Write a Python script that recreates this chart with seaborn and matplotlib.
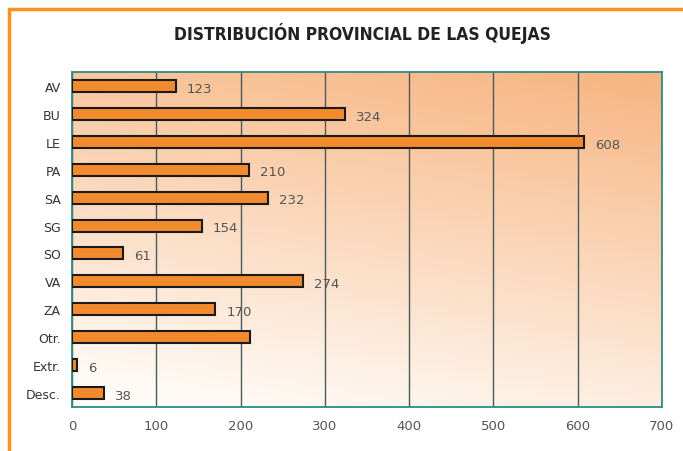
import numpy as np
import pandas as pd
import matplotlib
matplotlib.use("Agg")
import matplotlib.pyplot as plt
from matplotlib.patches import Rectangle
import seaborn as sns

categories = ["AV", "BU", "LE", "PA", "SA", "SG", "SO", "VA", "ZA", "Otr.", "Extr.", "Desc."]
values = [123, 324, 608, 210, 232, 154, 61, 274, 170, 211, 6, 38]
labels = ["123", "324", "608", "210", "232", "154", "61", "274", "170", "", "6", "38"]
xticks = [0, 100, 200, 300, 400, 500, 600, 700]

df = pd.DataFrame({"prov": categories, "n": values})

sns.set_style("white")
plt.rcParams['font.family'] = ['DejaVu Sans']

fig = plt.figure(figsize=(6.83, 4.52), dpi=100)
fig.patch.set_facecolor("white")
# orange frame
fig.add_artist(Rectangle((9/683, -0.05), 1.2, 1 - 10/452 + 0.05, transform=fig.transFigure,
                         fill=False, edgecolor="#F7931E", linewidth=2.5))

ax = fig.add_axes([72/683, 1 - 408/452, 590/683, 335/452])

# gradient background
ny, nx = 200, 200
yy, xx = np.mgrid[0:1:ny*1j, 0:1:nx*1j]
t = np.clip((1 - yy) * 0.8 + xx * 0.25 - 0.05, 0, 1)  # yy=0 at top row
top = np.array([247, 180, 128]) / 255
bot = np.array([255, 252, 248]) / 255
img = bot[None, None, :] * (1 - t[..., None]) + top[None, None, :] * t[..., None]
ax.imshow(img, extent=[0, 700, 11.5, -0.5], aspect="auto", zorder=0, interpolation="bilinear")

sns.barplot(data=df, x="n", y="prov", orient="h", color="#F28A2E", width=0.43,
            edgecolor="#1a1a1a", linewidth=1.5, saturation=1, ax=ax, zorder=3)

for i, (v, lab) in enumerate(zip(values, labels)):
    if lab:
        ax.text(v + 13, i + 0.08, lab, va="center", ha="left", fontsize=9.5, color="#555555", zorder=4)

ax.set_xlim(0, 700)
ax.set_ylim(11.5, -0.5)
ax.set_xticks(xticks)
ax.set_xticklabels([str(x) for x in xticks], fontsize=9.5, color="#555555")
ax.set_yticks(range(len(categories)))
ax.set_yticklabels(categories, fontsize=9, color="#333333")
ax.tick_params(axis="y", length=0, pad=8)
ax.tick_params(axis="x", length=4, color="#2f6f6f", width=1.2, pad=5)
# minor ticks on y at boundaries
ax.set_yticks(np.arange(-0.5, 12, 1), minor=True)
ax.tick_params(axis="y", which="minor", length=4, color="#2f6f6f", width=1.2)
ax.set_xlabel("")
ax.set_ylabel("")
ax.grid(axis="x", color="#4a5a5c", linewidth=1.0, zorder=1)
ax.set_axisbelow(True)
for s in ax.spines.values():
    s.set_visible(True)
    s.set_color("#2f8a85")
    s.set_linewidth(1.3)

fig.text(362/683, 1 - 33/452, "DISTRIBUCIÓN PROVINCIAL DE LAS QUEJAS", ha="center", va="center",
         fontsize=12.5, fontweight="bold", fontstretch="condensed", color="#222222")

fig.savefig("out.png", dpi=100)
